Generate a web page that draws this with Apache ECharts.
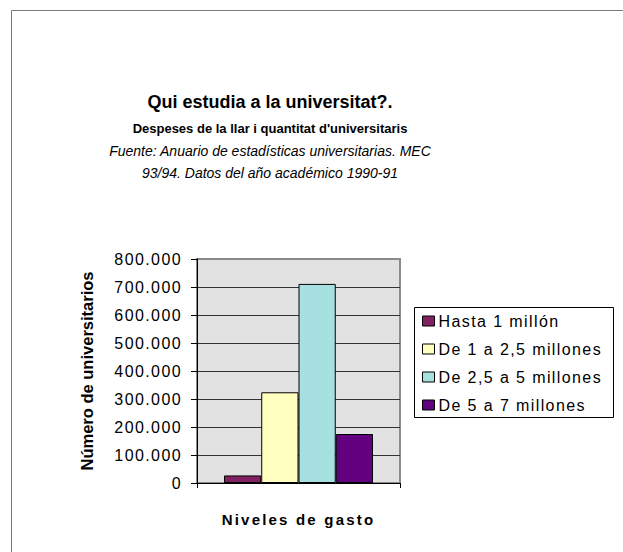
<!DOCTYPE html>
<html>
<head>
<meta charset="utf-8">
<script src="https://cdn.jsdelivr.net/npm/echarts@6/dist/echarts.min.js"></script>
<style>
  html, body { margin: 0; padding: 0; background: #fff; overflow: hidden; }
  #chart { width: 623px; height: 552px; }
  /* 原图文字字距较宽 */
  #chart text[style*="16px"] { letter-spacing: 1.4px; }
  #chart text[style*="15px"] { letter-spacing: 2.2px; }
</style>
</head>
<body>
<div id="chart"></div>
<script>
// 数据
const seriesNames = ['Hasta 1 millón', 'De 1 a 2,5 millones', 'De 2,5 a 5 millones', 'De 5 a 7 millones'];
const seriesValues = [27000, 324000, 711000, 175000];
const categories = [''];
const yMax = 800000;
const yStep = 100000;

const colors = ['#822062', '#FFFFC0', '#A6E0E0', '#620080'];
const FONT = '"Liberation Sans", Arial, sans-serif';

// 千位用点分隔
function fmt(v) {
  return String(v).replace(/\B(?=(\d{3})+(?!\d))/g, '.');
}

const chart = echarts.init(document.getElementById('chart'), null, { renderer: 'svg' });

const series = seriesNames.map((name, i) => ({
  name: name,
  type: 'bar',
  data: [seriesValues[i]],
  barGap: '0%',
  barCategoryGap: '26.6%',
  itemStyle: { color: colors[i], borderColor: '#000', borderWidth: 1 },
  silent: true
}));

const titleLines = [
  { text: 'Qui estudia a la universitat?.', font: 'bold 18px ' + FONT, y: 102 },
  { text: "Despeses de la llar i quantitat d'universitaris", font: 'bold 13px ' + FONT, y: 128.5 },
  { text: 'Fuente: Anuario de estadísticas universitarias. MEC', font: 'italic 14px ' + FONT, y: 150.5 },
  { text: '93/94. Datos del año académico 1990-91', font: 'italic 14px ' + FONT, y: 172.5 }
];

chart.setOption({
  animation: false,
  backgroundColor: '#fff',
  textStyle: { fontFamily: FONT },
  grid: {
    left: 197, top: 259, width: 203, height: 224,
    show: true,
    backgroundColor: '#E2E2E2',
    borderColor: '#8A8A8A',
    borderWidth: 2
  },
  legend: {
    orient: 'vertical',
    left: 422, top: 313,
    padding: 0,
    itemWidth: 12, itemHeight: 10,
    itemGap: 12,
    icon: 'rect',
    selectedMode: false,
    itemStyle: { borderColor: '#000', borderWidth: 1 },
    textStyle: { fontSize: 16, color: '#000', padding: [0, 0, 0, -1] },
    data: seriesNames
  },
  xAxis: {
    type: 'category',
    data: categories,
    name: 'Niveles de gasto',
    nameLocation: 'middle',
    nameGap: 29,
    nameTextStyle: { fontSize: 15, fontWeight: 'bold', color: '#000' },
    axisLine: { lineStyle: { color: '#000', width: 1 } },
    axisTick: { show: true, length: 5, lineStyle: { color: '#000' } },
    axisLabel: { show: false }
  },
  yAxis: {
    type: 'value',
    min: 0,
    max: yMax,
    interval: yStep,
    name: 'Número de universitarios',
    nameLocation: 'middle',
    nameGap: 102,
    nameTextStyle: { fontSize: 16.5, fontWeight: 'bold', color: '#000' },
    axisLine: { show: true, lineStyle: { color: '#000', width: 1 } },
    axisTick: { show: true, length: 6, lineStyle: { color: '#000' } },
    axisLabel: { fontSize: 16, color: '#000', margin: 15, formatter: fmt },
    splitLine: { show: true, showMaxLine: false, lineStyle: { color: '#333', width: 1 } }
  },
  graphic: [
    // 外框
    { type: 'line', shape: { x1: 11.5, y1: 10.5, x2: 623, y2: 10.5 }, style: { stroke: '#7A7A7A', lineWidth: 1 }, silent: true },
    { type: 'line', shape: { x1: 11.5, y1: 10.5, x2: 11.5, y2: 552 }, style: { stroke: '#7A7A7A', lineWidth: 1 }, silent: true },
    // 图例框
    { type: 'rect', shape: { x: 414.5, y: 307.5, width: 199, height: 110 }, style: { fill: '#fff', stroke: '#000', lineWidth: 1 }, silent: true }
  ].concat(titleLines.map((t) => ({
    type: 'text',
    silent: true,
    style: { text: t.text, x: 270, y: t.y, font: t.font, fill: '#000', textAlign: 'center', verticalAlign: 'middle' }
  }))),
  series: series
});
</script>
</body>
</html>
